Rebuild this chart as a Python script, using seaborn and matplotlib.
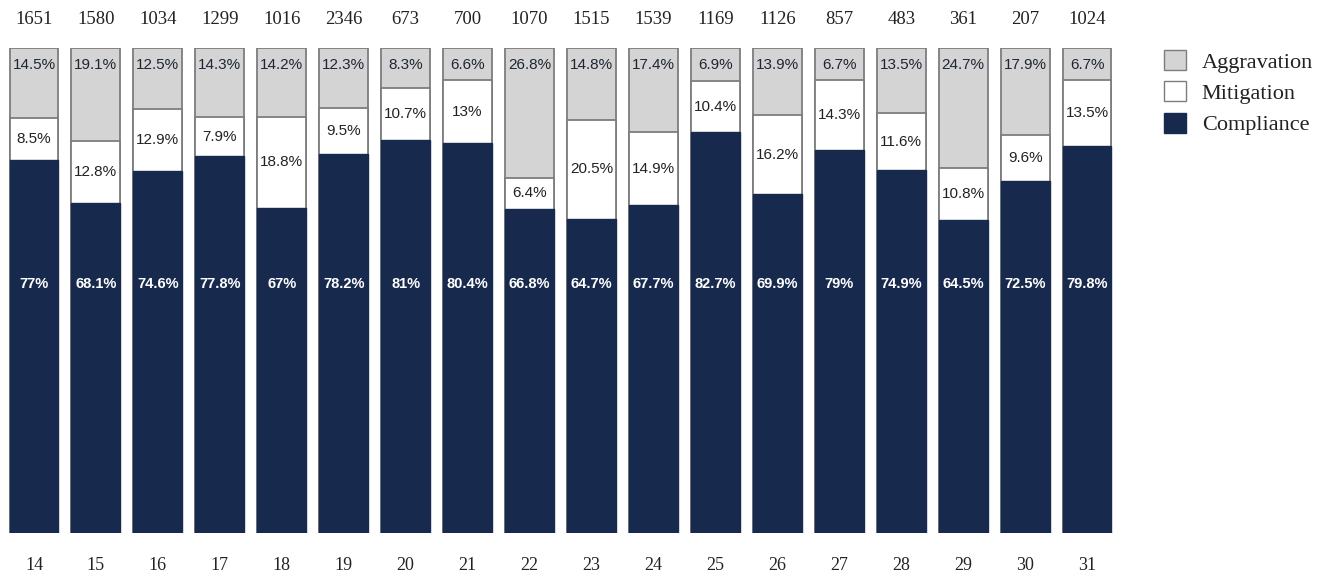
import matplotlib
matplotlib.use("Agg")
import matplotlib.pyplot as plt
from matplotlib.patches import Patch
import numpy as np
import pandas as pd
import seaborn as sns

# Case numbers and the share of each response type (in percent)
categories = ["14", "15", "16", "17", "18", "19", "20", "21", "22",
              "23", "24", "25", "26", "27", "28", "29", "30", "31"]
totals = [1651, 1580, 1034, 1299, 1016, 2346, 673, 700, 1070,
          1515, 1539, 1169, 1126, 857, 483, 361, 207, 1024]
compliance = [77, 68.1, 74.6, 77.8, 67, 78.2, 81, 80.4, 66.8,
              64.7, 67.7, 82.7, 69.9, 79, 74.9, 64.5, 72.5, 79.8]
mitigation = [8.5, 12.8, 12.9, 7.9, 18.8, 9.5, 10.7, 13, 6.4,
              20.5, 14.9, 10.4, 16.2, 14.3, 11.6, 10.8, 9.6, 13.5]
aggravation = [14.5, 19.1, 12.5, 14.3, 14.2, 12.3, 8.3, 6.6, 26.8,
               14.8, 17.4, 6.9, 13.9, 6.7, 13.5, 24.7, 17.9, 6.7]

df = pd.DataFrame({
    "case": categories,
    "compliance": compliance,
    "mitigation": mitigation,
    "aggravation": aggravation,
})
df["cm"] = df["compliance"] + df["mitigation"]
df["all"] = df["cm"] + df["aggravation"]

NAVY = "#172a4e"
GREY = "#d4d4d4"
EDGE = "#7d7d7d"
SERIF = ["Liberation Serif", "DejaVu Serif"]

sns.set_theme(style="white")
plt.rcParams["font.family"] = ["Liberation Sans", "DejaVu Sans"]

fig = plt.figure(figsize=(13.23, 5.74), dpi=100)
W, H = 1323, 574
ax = fig.add_axes([3 / W, 41 / H, 1115 / W, 485 / H])

bw = 0.79
sns.barplot(data=df, x="case", y="all", order=categories, color=GREY,
            width=bw, edgecolor=EDGE, linewidth=1.3, saturation=1, ax=ax)
sns.barplot(data=df, x="case", y="cm", order=categories, color="white",
            width=bw, edgecolor=EDGE, linewidth=1.3, saturation=1, ax=ax)
sns.barplot(data=df, x="case", y="compliance", order=categories, color=NAVY,
            width=bw, edgecolor=NAVY, linewidth=1.0, saturation=1, ax=ax)

ax.set_xlim(-0.5, len(categories) - 0.5)
ax.set_ylim(0, 100)
ax.set_xlabel("")
ax.set_ylabel("")
ax.set_yticks([])
for s in ax.spines.values():
    s.set_visible(False)
ax.tick_params(axis="x", length=0, pad=17)
for lab in ax.get_xticklabels():
    lab.set_family(SERIF)
    lab.set_fontsize(13)
    lab.set_color("#222222")

def pct(v):
    return f"{v:g}%"

for i, row in df.iterrows():
    # totals above each bar
    ax.text(i, 105.9, f"{totals[i]}", ha="center", va="center",
            fontsize=13.5, color="#222222", family=SERIF, clip_on=False)
    # aggravation share near the top of the grey segment
    ax.text(i, row["all"] - 3.6, pct(row["aggravation"]), ha="center",
            va="center", fontsize=11, color="#1e2535")
    # mitigation share centred in the white segment
    ax.text(i, row["compliance"] + row["mitigation"] / 2,
            pct(row["mitigation"]), ha="center", va="center",
            fontsize=11, color="#222222")
    # compliance share in white bold
    ax.text(i, 51.4, pct(row["compliance"]), ha="center", va="center",
            fontsize=10.5, color="white", fontweight="bold")

handles = [
    Patch(facecolor=GREY, edgecolor=EDGE, linewidth=1.0, label="Aggravation"),
    Patch(facecolor="white", edgecolor=EDGE, linewidth=1.0, label="Mitigation"),
    Patch(facecolor=NAVY, edgecolor=NAVY, linewidth=1.0, label="Compliance"),
]
leg = fig.legend(handles=handles, loc="upper left",
                 bbox_to_anchor=(1164 / W, 1 - 50 / H), frameon=False,
                 handlelength=1.0, handleheight=1.0, handletextpad=0.7,
                 labelspacing=0.4, borderaxespad=0, borderpad=0,
                 prop={"family": SERIF, "size": 16})
for t in leg.get_texts():
    t.set_color("#222222")

fig.savefig("out.png", dpi=100, facecolor="white")
